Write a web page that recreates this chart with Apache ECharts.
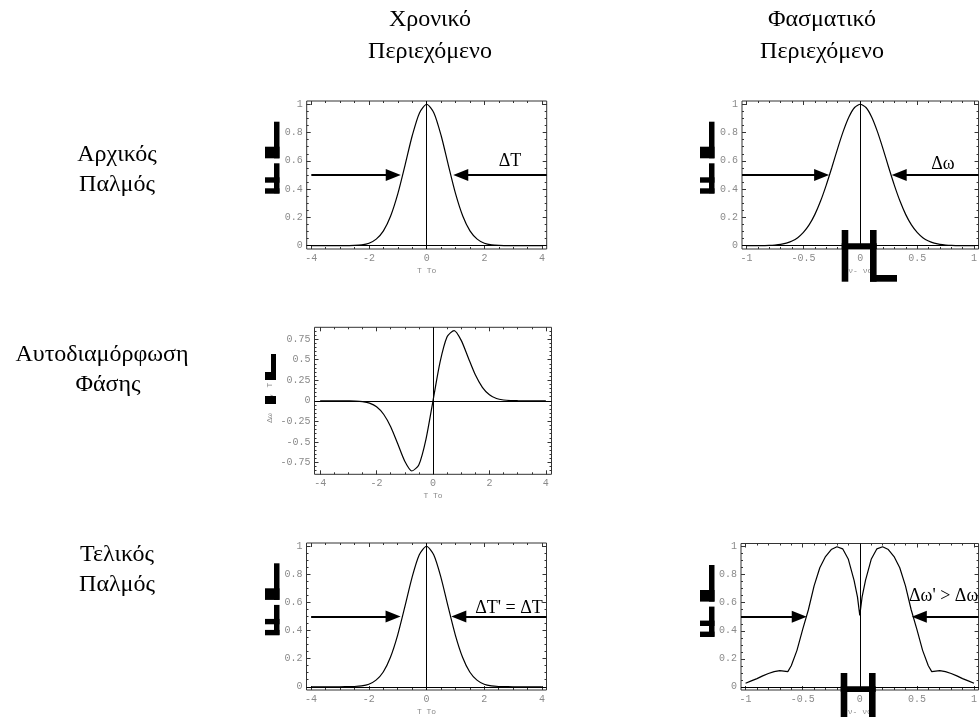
<!DOCTYPE html>
<html>
<head>
<meta charset="utf-8">
<script src="https://cdn.jsdelivr.net/npm/echarts@6/dist/echarts.min.js"></script>
<style>
html, body { margin: 0; background: #fff; }
#chart { width: 980px; height: 717px; }
</style>
</head>
<body>
<div id="chart"></div>
<script>
// time axis samples (T/T0)
const timeX = [-4,-3.75,-3.5,-3.25,-3,-2.75,-2.5,-2.25,-2,-1.75,-1.5,-1.25,-1,-0.75,-0.5,-0.25,0,
	0.25,0.5,0.75,1,1.25,1.5,1.75,2,2.25,2.5,2.75,3,3.25,3.5,3.75,4];
const pulseIn = [0,0,0,0,0,0.001,0.002,0.006,0.018,0.047,0.105,0.21,0.368,0.57,0.779,0.939,1,
	0.939,0.779,0.57,0.368,0.21,0.105,0.047,0.018,0.006,0.002,0.001,0,0,0,0,0];
const chirp = [0,0,0,0,-0.001,-0.003,-0.01,-0.028,-0.073,-0.164,-0.316,-0.524,-0.736,-0.855,-0.779,-0.47,0,
	0.47,0.779,0.855,0.736,0.524,0.316,0.164,0.073,0.028,0.01,0.003,0.001,0,0,0,0];
const pulseOut = [0,0,0,0,0,0.001,0.002,0.006,0.018,0.047,0.105,0.21,0.368,0.57,0.779,0.939,1,
	0.939,0.779,0.57,0.368,0.21,0.105,0.047,0.018,0.006,0.002,0.001,0,0,0,0,0];

// spectrum samples (v - v0)
const specX = [-1,-0.95,-0.9,-0.85,-0.8,-0.75,-0.7,-0.65,-0.6,-0.55,-0.5,-0.45,-0.4,-0.35,-0.3,-0.25,-0.2,-0.15,-0.1,-0.05,0,
	0.05,0.1,0.15,0.2,0.25,0.3,0.35,0.4,0.45,0.5,0.55,0.6,0.65,0.7,0.75,0.8,0.85,0.9,0.95,1];
const specIn = [0,0,0,0.001,0.002,0.005,0.01,0.018,0.033,0.057,0.094,0.147,0.22,0.314,0.427,0.553,0.685,0.808,0.91,0.977,1,
	0.977,0.91,0.808,0.685,0.553,0.427,0.314,0.22,0.147,0.094,0.057,0.033,0.018,0.01,0.005,0.002,0.001,0,0,0];
const specOutX = [-1,-0.95,-0.9,-0.85,-0.8,-0.75,-0.7,-0.63,-0.6,-0.55,-0.5,-0.45,-0.4,-0.35,-0.3,-0.25,-0.2,-0.15,-0.1,-0.05,-0.02,0,
	0.02,0.05,0.1,0.15,0.2,0.25,0.3,0.35,0.4,0.45,0.5,0.55,0.6,0.63,0.7,0.75,0.8,0.85,0.9,0.95,1];
const specOut = [0.025,0.042,0.058,0.078,0.095,0.108,0.115,0.108,0.15,0.26,0.41,0.55,0.72,0.85,0.93,0.98,1,0.985,0.91,0.76,0.64,0.51,
	0.64,0.76,0.91,0.985,1,0.98,0.93,0.85,0.72,0.55,0.41,0.26,0.15,0.108,0.115,0.108,0.095,0.078,0.058,0.042,0.025];

// tick labels
const timeTicks = [-4,-2,0,2,4];
const specTicks = [-1,-0.5,0,0.5,1];
const unitTicks = [0,0.2,0.4,0.6,0.8,1];
const chirpTicks = [-0.75,-0.5,-0.25,0,0.25,0.5,0.75];

// half-maximum arrow tips [left, right]
const tipsA = [-0.9, 0.92];
const tipsB = [-0.275, 0.277];
const tipsD = [-0.9, 0.86];
const tipsE = [-0.465, 0.456];

const HEAD = [12, 15];
const GRAY = '#8a8a8a';
const MONO = '"Liberation Mono", "DejaVu Sans Mono", monospace';
const SERIF = '"Liberation Serif", "DejaVu Serif", serif';

function steps(a, b, s) {
	let out = [];
	for (let v = a; v <= b + 1e-9; v += s) out.push(Math.round(v * 1000) / 1000);
	return out;
}

let grids = [], xAxes = [], yAxes = [], series = [];

function ax(g, pos, range, ticks, len, withLabel, name) {
	let a = {
		type: 'value', gridIndex: g, position: pos, min: range[0], max: range[1],
		axisLine: { show: false, onZero: false }, splitLine: { show: false },
		axisTick: { show: true, inside: true, length: len, customValues: ticks, lineStyle: { color: '#333', width: 1 } },
		axisLabel: { show: false }
	};
	if (withLabel) a.axisLabel = {
		show: true, customValues: ticks, color: GRAY, fontFamily: MONO, fontSize: 10, margin: 4,
		formatter: v => String(v)
	};
	if (name) Object.assign(a, {
		name, nameLocation: 'middle', nameGap: 18,
		nameTextStyle: { color: GRAY, fontFamily: MONO, fontSize: 8 }
	});
	return a;
}

function arrow(from, to, level) {
	return [
		{ coord: [from, level], lineStyle: { width: 2, color: '#000', type: 'solid' } },
		{ coord: [to, level], symbol: 'triangle', symbolSize: HEAD, lineStyle: { width: 2, color: '#000', type: 'solid' } }
	];
}

function panel(p) {
	let g = grids.length, xi = xAxes.length, yi = yAxes.length;
	grids.push({ left: p.left, top: p.top, width: p.width, height: p.height,
		show: true, borderColor: '#333', borderWidth: 1, backgroundColor: 'rgba(0,0,0,0)' });
	xAxes.push(ax(g, 'bottom', p.x, p.xMajor, 4, true, p.xName), ax(g, 'top', p.x, p.xMajor, 4),
		ax(g, 'bottom', p.x, p.xMinor, 2), ax(g, 'top', p.x, p.xMinor, 2));
	yAxes.push(ax(g, 'left', p.y, p.yMajor, 4, true), ax(g, 'right', p.y, p.yMajor, 4),
		ax(g, 'left', p.y, p.yMinor, 2), ax(g, 'right', p.y, p.yMinor, 2));

	let marks = [{ xAxis: 0 }, { yAxis: 0 }];
	if (p.tips) {
		let d = HEAD[1] / 2 / (p.width / (p.x[1] - p.x[0]));
		marks.push(arrow(p.from[0], p.tips[0] - d, 0.5));
		marks.push(arrow(p.from[1], p.tips[1] + d, 0.5));
	}
	series.push({
		type: 'line', xAxisIndex: xi, yAxisIndex: yi, silent: true,
		data: p.xs.map((x, i) => [x, p.ys[i]]),
		showSymbol: false, smooth: p.smooth || false,
		lineStyle: { color: '#000', width: 1.2 },
		markLine: {
			silent: true, symbol: 'none', animation: false,
			label: { show: false }, emphasis: { disabled: true },
			lineStyle: { color: '#000', width: 1, type: 'solid' },
			data: marks
		}
	});
}

const tMinor = steps(-4, 4, 0.5), sMinor = steps(-1, 1, 0.1);
const uMinor = steps(0, 1, 0.05), cMinor = steps(-0.85, 0.85, 0.05);

panel({ left: 306.7, top: 101, width: 240, height: 148, x: [-4.16, 4.16], y: [-0.023, 1.023],
	xMajor: timeTicks, xMinor: tMinor, yMajor: unitTicks, yMinor: uMinor, xName: 'T To',
	xs: timeX, ys: pulseIn, smooth: 0.25, tips: tipsA, from: [-4, 4.16] });
panel({ left: 742, top: 101, width: 240, height: 148, x: [-1.04, 1.04], y: [-0.023, 1.023],
	xMajor: specTicks, xMinor: sMinor, yMajor: unitTicks, yMinor: uMinor, xName: 'ν- νo',
	xs: specX, ys: specIn, smooth: 0.2, tips: tipsB, from: [-1.04, 1.04] });
panel({ left: 314.5, top: 327.3, width: 237, height: 147, x: [-4.2, 4.2], y: [-0.895, 0.895],
	xMajor: timeTicks, xMinor: tMinor, yMajor: chirpTicks, yMinor: cMinor, xName: 'T To',
	xs: timeX, ys: chirp, smooth: 0.25 });
panel({ left: 306.5, top: 543, width: 240, height: 148, x: [-4.16, 4.16], y: [-0.023, 1.023],
	xMajor: timeTicks, xMinor: tMinor, yMajor: unitTicks, yMinor: uMinor, xName: 'T To',
	xs: timeX, ys: pulseOut, smooth: 0.25, tips: tipsD, from: [-4, 4.16] });
panel({ left: 741, top: 543.5, width: 240, height: 148, x: [-1.04, 1.04], y: [-0.023, 1.023],
	xMajor: specTicks, xMinor: sMinor, yMajor: unitTicks, yMinor: uMinor, xName: 'ν- νo',
	xs: specOutX, ys: specOut, tips: tipsE, from: [-1.04, 1.04] });

// text and the blocky glyphs left by the original's missing bracket font
function text(x, y, s, size, extra) {
	let t = { type: 'text', x, y, z: 50, silent: true,
		style: { text: s, fontFamily: SERIF, fontSize: size, fill: '#000',
			align: 'center', verticalAlign: 'middle', textAlign: 'center', textVerticalAlign: 'middle' } };
	if (extra) {
		if (extra.rotation != null) t.rotation = extra.rotation;
		Object.assign(t.style, extra.style || {});
	}
	return t;
}
function rects(x0, y0, list) {
	return list.map(r => ({ type: 'rect', z: 100, silent: true,
		shape: { x: x0 + r[0], y: y0 + r[1], width: r[2], height: r[3] }, style: { fill: '#000' } }));
}
const bracketY = [[9, 0, 5.5, 36.6], [0, 25, 14.5, 11.6], [9, 41.6, 5.5, 30], [0, 55.6, 14.5, 5.4], [0, 66.6, 14.5, 5.4]];
const bracketX = [[0, 0, 6.6, 51.7], [0, 13.3, 35, 5.7], [28.3, 0, 6.6, 51.7], [28.3, 45, 27, 6.7]];
const bracketC = [[6, 0, 5, 26], [0, 18, 11, 8], [0, 42, 11, 8]];
const small = { style: { fill: GRAY, fontFamily: MONO } };
const leftAligned = { style: { align: 'left', textAlign: 'left' } };

let graphic = [
	text(430, 20, 'Χρονικό', 24), text(430, 52, 'Περιεχόμενο', 24),
	text(822, 20, 'Φασματικό', 24), text(822, 52, 'Περιεχόμενο', 24),
	text(117, 155, 'Αρχικός', 24), text(117, 185, 'Παλμός', 24),
	text(102, 355, 'Αυτοδιαμόρφωση', 24), text(108, 385, 'Φάσης', 24),
	text(117, 555, 'Τελικός', 24), text(117, 585, 'Παλμός', 24),
	text(510, 161, 'ΔT', 18), text(943, 164, 'Δω', 18),
	text(509, 608, "ΔT' = ΔT", 18),
	text(909, 596, "Δω' > Δω", 18, leftAligned),
	text(270, 418, 'Δω', 8, { rotation: Math.PI / 2, style: small.style }),
	text(270, 390, ', T', 8, { rotation: Math.PI / 2, style: small.style })
].concat(
	rects(265, 121.7, bracketY), rects(700, 121.7, bracketY),
	rects(265, 563.3, bracketY), rects(700, 565, bracketY),
	rects(841.7, 230, bracketX), rects(840.7, 673, bracketX),
	rects(265, 354, bracketC)
);

let chart = echarts.init(document.getElementById('chart'), null, { renderer: 'canvas' });
chart.setOption({
	animation: false,
	backgroundColor: '#fff',
	grid: grids, xAxis: xAxes, yAxis: yAxes, series,
	graphic
});
</script>
</body>
</html>
